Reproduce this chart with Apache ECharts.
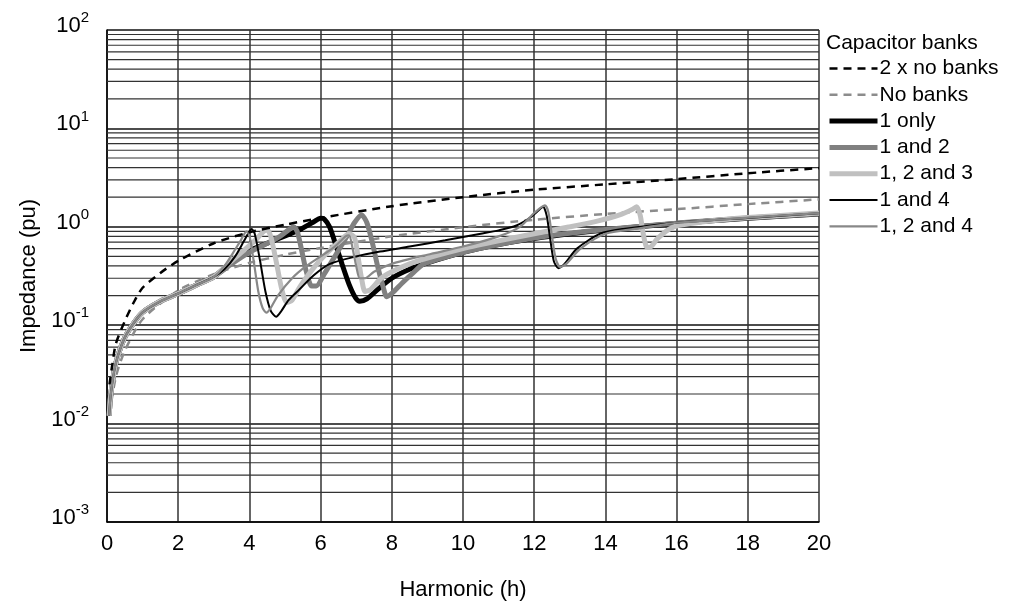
<!DOCTYPE html>
<html><head><meta charset="utf-8">
<script src="https://cdn.jsdelivr.net/npm/echarts@6/dist/echarts.min.js"></script>
<style>html,body{margin:0;padding:0;background:#fff}#c{width:1009px;height:608px}</style>
</head><body><div id="c"></div>
<script>
// ---- data (harmonic h, impedance pu) ----
const twoXNoBanks = [[0.07,0.025],[0.15,0.04],[0.25,0.065],[0.5,0.11],[0.75,0.17],[1,0.24],[1.5,0.34],[2,0.45],[3,0.68],[4,0.88],[5,1.05],[6,1.23],[8,1.62],[10,2.0],[12,2.38],[14,2.7],[16,3.05],[18,3.5],[20,3.95]];
const noBanks = [[0.06,0.012],[0.25,0.03],[0.5,0.055],[1,0.115],[2,0.225],[3,0.33],[4,0.43],[5,0.52],[6,0.61],[8,0.8],[10,0.99],[12,1.18],[14,1.35],[16,1.51],[18,1.7],[20,1.9]];
const oneOnly = [[0.06,0.012],[0.1,0.019],[0.2,0.034],[0.3,0.048],[0.5,0.075],[0.75,0.105],[1,0.135],[1.5,0.175],[2,0.21],[2.5,0.255],[3,0.31],[3.5,0.44],[4,0.57],[4.5,0.68],[4.86,0.77],[5.4,0.93],[5.8,1.12],[6.0,1.22],[6.1,1.2],[6.25,1.0],[6.4,0.7],[6.6,0.42],[6.8,0.26],[6.98,0.19],[7.1,0.175],[7.3,0.185],[7.6,0.23],[8,0.3],[8.5,0.37],[9,0.43],[10,0.55],[11,0.66],[12,0.76],[13,0.85],[14,0.93],[16,1.08],[18,1.22],[20,1.35]];
const oneAndTwo = [[0.06,0.012],[0.1,0.019],[0.2,0.034],[0.3,0.048],[0.5,0.075],[0.75,0.105],[1,0.135],[1.5,0.175],[2,0.21],[2.5,0.255],[3,0.31],[3.5,0.42],[4,0.55],[4.5,0.68],[4.86,0.8],[5.1,0.93],[5.24,1.0],[5.35,0.88],[5.48,0.55],[5.6,0.35],[5.75,0.25],[5.88,0.25],[6.1,0.33],[6.4,0.5],[6.74,0.8],[6.95,1.1],[7.15,1.32],[7.3,1.1],[7.45,0.7],[7.6,0.4],[7.75,0.25],[7.86,0.195],[8.0,0.21],[8.3,0.27],[8.6,0.34],[8.9,0.42],[10,0.55],[11,0.66],[12,0.77],[13,0.86],[14,0.94],[16,1.09],[18,1.23],[20,1.36]];
const oneTwoThree = [[0.06,0.012],[0.1,0.019],[0.2,0.034],[0.3,0.048],[0.5,0.075],[0.75,0.105],[1,0.135],[1.5,0.175],[2,0.21],[2.5,0.255],[3,0.31],[3.5,0.45],[3.9,0.6],[4.2,0.75],[4.4,0.9],[4.5,0.93],[4.6,0.8],[4.75,0.45],[4.9,0.24],[5.05,0.17],[5.2,0.18],[5.4,0.24],[5.8,0.38],[6.2,0.55],[6.55,0.72],[6.8,0.85],[6.95,0.78],[7.05,0.5],[7.15,0.3],[7.25,0.22],[7.4,0.23],[7.7,0.3],[8,0.35],[8.5,0.42],[9,0.48],[10,0.6],[11,0.72],[12,0.85],[13,1.0],[13.8,1.15],[14.4,1.32],[14.75,1.5],[14.88,1.6],[14.98,1.3],[15.05,0.9],[15.15,0.63],[15.25,0.62],[15.45,0.75],[15.7,0.9],[16,1.02],[17,1.15],[18,1.24],[20,1.38]];
const oneAndFour = [[0.06,0.012],[0.1,0.019],[0.2,0.034],[0.3,0.048],[0.5,0.075],[0.75,0.105],[1,0.135],[1.5,0.175],[2,0.21],[2.5,0.255],[3,0.31],[3.3,0.37],[3.6,0.5],[3.85,0.72],[4.0,0.9],[4.06,0.95],[4.15,0.85],[4.3,0.45],[4.45,0.22],[4.6,0.14],[4.75,0.122],[4.9,0.14],[5.1,0.18],[5.4,0.23],[5.8,0.32],[6.26,0.42],[7,0.5],[7.67,0.56],[8.5,0.63],[9.5,0.73],[10.5,0.85],[11,0.92],[11.5,1.03],[11.9,1.25],[12.15,1.5],[12.25,1.6],[12.35,1.3],[12.45,0.75],[12.55,0.45],[12.68,0.38],[12.85,0.42],[13.2,0.6],[13.85,0.85],[14.5,0.95],[16,1.1],[18,1.23],[20,1.37]];
const oneTwoFour = [[0.06,0.012],[0.1,0.019],[0.2,0.034],[0.3,0.048],[0.5,0.075],[0.75,0.105],[1,0.135],[1.5,0.175],[2,0.21],[2.5,0.255],[3,0.31],[3.3,0.4],[3.55,0.55],[3.75,0.72],[3.92,0.9],[4.0,0.82],[4.12,0.45],[4.25,0.22],[4.37,0.15],[4.48,0.134],[4.6,0.15],[4.8,0.2],[5.2,0.3],[5.6,0.4],[6.0,0.5],[6.4,0.63],[6.7,0.8],[6.8,0.82],[6.9,0.6],[7.0,0.4],[7.1,0.3],[7.25,0.3],[7.5,0.35],[8,0.42],[9,0.52],[10,0.63],[11,0.8],[11.6,1.0],[12,1.38],[12.3,1.65],[12.4,1.4],[12.5,0.8],[12.6,0.48],[12.73,0.39],[12.9,0.42],[13.3,0.6],[14,0.85],[15,0.97],[16,1.1],[18,1.24],[20,1.38]];
const legendNames = ['2 x no banks','No banks','1 only','1 and 2','1, 2 and 3','1 and 4','1, 2 and 4'];
const decadeStarts = [0.001,0.01,0.1,1,10];
const minorMultipliers = [2,3,4,5,6,7,8,9];
const xRange = [0,20];

// minor log gridlines as broken line segments across the plot
const minorGrid = [];
decadeStarts.forEach(function(d){
  minorMultipliers.forEach(function(k){
    const v = +(d*k).toPrecision(3);
    minorGrid.push([xRange[0], v], [xRange[1], v], ['-','-']);
  });
});

const FONT = "'Liberation Sans', Arial, sans-serif";
const chart = echarts.init(document.getElementById('c'), null, {renderer:'canvas'});

function lineSeries(name, data, color, width, type, z){
  return {name:name, type:'line', data:data, symbol:'none', showSymbol:false, smooth:0.25,
    lineStyle:{color:color, width:width, type:type}, itemStyle:{color:color}, z:z, animation:false};
}

chart.setOption({
  animation:false,
  textStyle:{fontFamily:FONT},
  title:{text:'Capacitor banks', left:826, top:33, padding:0,
    textStyle:{fontFamily:FONT, fontSize:21, fontWeight:'normal', color:'#000'}},
  legend:{data:legendNames, orient:'vertical', left:827, top:58, padding:0,
    itemWidth:48, itemHeight:20, itemGap:5.3, selectedMode:false,
    itemStyle:{opacity:0}, lineStyle:{width:'inherit'},
    textStyle:{fontFamily:FONT, fontSize:21, color:'#000', lineHeight:20, padding:[0,0,0,-3]}},
  grid:{left:107, right:190, top:30, bottom:86, containLabel:false},
  xAxis:{type:'value', min:0, max:20, interval:2,
    name:'Harmonic (h)', nameLocation:'middle', nameGap:57,
    nameTextStyle:{fontFamily:FONT, fontSize:22, color:'#000'},
    axisLine:{lineStyle:{color:'#000', width:1.5}}, axisTick:{show:false},
    axisLabel:{fontFamily:FONT, fontSize:22, color:'#000', margin:11},
    splitLine:{show:true, lineStyle:{color:'#333', width:1.5}}},
  yAxis:{type:'log', logBase:10, min:0.001, max:100, splitNumber:5,
    name:'Impedance (pu)', nameLocation:'middle', nameGap:66, nameRotate:90,
    nameTextStyle:{fontFamily:FONT, fontSize:22, color:'#000'},
    axisLine:{show:true, lineStyle:{color:'#000', width:1.5}}, axisTick:{show:false},
    axisLabel:{margin:18, formatter:function(v){ const e=Math.round(Math.log10(v)); return '{b|10}{s|'+e+'}'; },
      rich:{b:{fontFamily:FONT, fontSize:22, color:'#000', padding:[4.5,0,12.5,0]},
            s:{fontFamily:FONT, fontSize:15, color:'#000', padding:[0,0,24,0]}}},
    splitLine:{show:true, lineStyle:{color:'#111', width:1.5}}},
  series:[
    {name:'minor grid', type:'line', data:minorGrid, silent:true, z:1, symbol:'none', showSymbol:false,
     connectNulls:false, lineStyle:{color:'#333', width:1.2}, animation:false},
    lineSeries('No banks', noBanks, '#8c8c8c', 2.5, [8,6], 2),
    lineSeries('1 only', oneOnly, '#000000', 5, 'solid', 3),
    lineSeries('1 and 2', oneAndTwo, '#808080', 5, 'solid', 4),
    lineSeries('1, 2 and 3', oneTwoThree, '#c0c0c0', 5, 'solid', 5),
    lineSeries('1 and 4', oneAndFour, '#000000', 2, 'solid', 6),
    lineSeries('1, 2 and 4', oneTwoFour, '#888888', 2.2, 'solid', 7),
    lineSeries('2 x no banks', twoXNoBanks, '#000000', 2.5, [8,6], 8)
  ]
});
</script></body></html>
